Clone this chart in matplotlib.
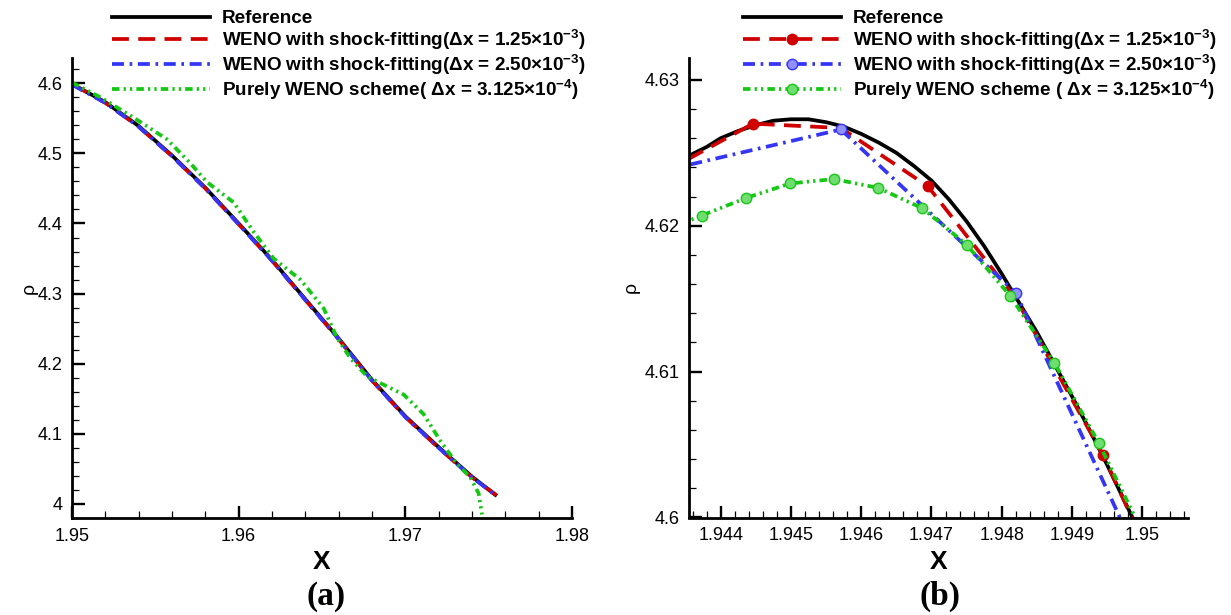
import matplotlib
matplotlib.use("Agg")
import matplotlib.pyplot as plt
from matplotlib.ticker import MultipleLocator, FuncFormatter

plt.rcParams['font.family'] = ['Liberation Sans', 'DejaVu Sans']
plt.rcParams['mathtext.fontset'] = 'custom'
plt.rcParams['mathtext.rm'] = 'Liberation Sans:bold'
plt.rcParams['mathtext.it'] = 'Liberation Sans:bold'
plt.rcParams['mathtext.bf'] = 'Liberation Sans:bold'
plt.rcParams['mathtext.default'] = 'rm'

# ---- panel (a) data ----
ref_a_x = [1.950, 1.952, 1.954, 1.956, 1.958, 1.960, 1.962, 1.964, 1.966, 1.968, 1.970, 1.972, 1.974, 1.9754]
ref_a_y = [4.599, 4.573, 4.539, 4.497, 4.451, 4.400, 4.348, 4.292, 4.236, 4.177, 4.125, 4.081, 4.039, 4.013]
red_a_x = [1.950, 1.952, 1.954, 1.956, 1.958, 1.960, 1.962, 1.964, 1.966, 1.968, 1.970, 1.972, 1.974, 1.9755]
red_a_y = [4.599, 4.572, 4.538, 4.496, 4.450, 4.399, 4.347, 4.291, 4.235, 4.176, 4.124, 4.080, 4.038, 4.012]
blue_a_x = [1.950, 1.952, 1.954, 1.956, 1.958, 1.960, 1.962, 1.964, 1.966, 1.968, 1.970, 1.972, 1.974, 1.9755]
blue_a_y = [4.598, 4.572, 4.538, 4.496, 4.450, 4.399, 4.347, 4.291, 4.235, 4.176, 4.124, 4.080, 4.038, 4.011]
green_a_x = [1.9500, 1.9517, 1.9537, 1.9557, 1.9571, 1.9581, 1.9597, 1.9609, 1.9621, 1.9637, 1.9651,
             1.9659, 1.9667, 1.9677, 1.9687, 1.9699, 1.9711, 1.9721, 1.9731, 1.9739, 1.9744, 1.9746]
green_a_y = [4.601, 4.580, 4.551, 4.520, 4.486, 4.459, 4.430, 4.388, 4.350, 4.320, 4.279,
             4.237, 4.208, 4.182, 4.170, 4.156, 4.128, 4.090, 4.057, 4.038, 4.015, 3.985]

# ---- panel (b) data ----
ref_b_x = [1.94355, 1.9438, 1.9440, 1.94425, 1.9445, 1.94475, 1.9450, 1.94525, 1.9455, 1.94575,
           1.9460, 1.94625, 1.9465, 1.94675, 1.9470, 1.94725, 1.9475, 1.94775, 1.9480, 1.94825,
           1.9485, 1.94875, 1.9490, 1.94925, 1.9495, 1.94975, 1.9500]
ref_b_y = [4.6248, 4.6254, 4.6260, 4.6265, 4.6269, 4.6272, 4.6273, 4.6273, 4.6271, 4.6268,
           4.6263, 4.6257, 4.6250, 4.6241, 4.6231, 4.6218, 4.6203, 4.6186, 4.6167, 4.6147,
           4.6127, 4.6105, 4.6083, 4.6060, 4.6036, 4.6011, 4.5986]
red_b_x = [1.94321, 1.94446, 1.94571, 1.94695, 1.94820, 1.94944, 1.95069]
red_b_y = [4.6237, 4.6270, 4.6267, 4.6227, 4.6150, 4.6043, 4.5912]
blue_b_x = [1.94321, 1.94571, 1.94820, 1.95071]
blue_b_y = [4.6238, 4.6266, 4.6154, 4.5893]
green_b_x = [1.94311, 1.94373, 1.94436, 1.94499, 1.94561, 1.94624, 1.94687, 1.94750,
             1.94812, 1.94875, 1.94938, 1.95000]
green_b_y = [4.6195, 4.6207, 4.6219, 4.6229, 4.6232, 4.6226, 4.6212, 4.6187,
             4.6152, 4.6106, 4.6051, 4.5990]

labels_a = ['Reference',
            'WENO with shock-fitting(Δx = 1.25×10$^{-3}$)',
            'WENO with shock-fitting(Δx = 2.50×10$^{-3}$)',
            'Purely WENO scheme( Δx = 3.125×10$^{-4}$)']
labels_b = ['Reference',
            'WENO with shock-fitting(Δx = 1.25×10$^{-3}$)',
            'WENO with shock-fitting(Δx = 2.50×10$^{-3}$)',
            'Purely WENO scheme ( Δx = 3.125×10$^{-4}$)']

c_red = '#d00000'
c_blue = '#3535f5'
c_green = '#14c814'
red_dash = (4.5, 2.5)
blue_dash = (3.2, 1.5, 0.7, 1.5)
green_dash = (2.0, 1.1, 0.6, 1.1, 0.6, 1.1)

W, H = 1231, 615
fig = plt.figure(figsize=(W / 100, H / 100), dpi=100)
ax1 = fig.add_axes([72 / W, (H - 518) / H, 500 / W, (518 - 58) / H])
ax2 = fig.add_axes([689 / W, (H - 517.5) / H, 499 / W, (517.5 - 58) / H])

lw = 2.7
# panel (a)
h0, = ax1.plot(ref_a_x, ref_a_y, color='black', lw=lw)
h1, = ax1.plot(red_a_x, red_a_y, color=c_red, lw=lw, dashes=red_dash)
h2, = ax1.plot(blue_a_x, blue_a_y, color=c_blue, lw=lw, dashes=blue_dash)
h3, = ax1.plot(green_a_x, green_a_y, color=c_green, lw=lw, dashes=green_dash)

# panel (b)
g0, = ax2.plot(ref_b_x, ref_b_y, color='black', lw=lw)
g1, = ax2.plot(red_b_x, red_b_y, color=c_red, lw=lw, dashes=red_dash,
               marker='o', ms=7.5, markevery=(1, 2))
g2, = ax2.plot(blue_b_x, blue_b_y, color=c_blue, lw=lw, dashes=blue_dash,
               marker='o', ms=7.5, mfc='#9090ff')
g3, = ax2.plot(green_b_x, green_b_y, color=c_green, lw=lw, dashes=green_dash,
               marker='o', ms=7.5, mfc='#70dd70')

fmt = FuncFormatter(lambda v, p: '{:g}'.format(round(v, 6)))

for ax in (ax1, ax2):
    ax.spines['top'].set_visible(False)
    ax.spines['right'].set_visible(False)
    ax.spines['left'].set_linewidth(2.0)
    ax.spines['bottom'].set_linewidth(2.0)
    ax.tick_params(which='major', direction='in', length=9, width=1.7, labelsize=13, pad=7)
    ax.tick_params(which='minor', direction='in', length=5, width=0.9)
    ax.xaxis.set_major_formatter(fmt)
    ax.yaxis.set_major_formatter(fmt)
    ax.set_xlabel('X', fontsize=19, fontweight='bold', labelpad=4)

ax1.set_ylabel('ρ', fontsize=14, labelpad=0)
ax2.set_ylabel('ρ', fontsize=14, labelpad=3)

ax1.set_xlim(1.95, 1.98)
ax1.set_ylim(3.980, 4.636)
ax1.xaxis.set_major_locator(MultipleLocator(0.01))
ax1.xaxis.set_minor_locator(MultipleLocator(0.002))
ax1.yaxis.set_major_locator(MultipleLocator(0.1))
ax1.yaxis.set_minor_locator(MultipleLocator(0.02))

ax2.set_xlim(1.94355, 1.95065)
ax2.set_ylim(4.6, 4.6315)
ax2.xaxis.set_major_locator(MultipleLocator(0.001))
ax2.xaxis.set_minor_locator(MultipleLocator(0.0002))
ax2.yaxis.set_major_locator(MultipleLocator(0.01))
ax2.yaxis.set_minor_locator(MultipleLocator(0.002))

leg_kw = dict(loc='upper left', bbox_transform=fig.transFigure, frameon=False,
              prop={'weight': 'bold', 'size': 13.6}, handlelength=5.2, handletextpad=0.62,
              labelspacing=0.04, borderpad=0, borderaxespad=0, numpoints=1)
ax1.legend([h0, h1, h2, h3], labels_a, bbox_to_anchor=(112 / W, 1 - 10 / H), **leg_kw)
ax2.legend([g0, g1, g2, g3], labels_b, bbox_to_anchor=(743 / W, 1 - 10 / H), **leg_kw)

fig.text(326 / W, 1 - 596 / H, '(a)', fontsize=24, fontweight='bold',
         family='Liberation Serif', ha='center', va='center')
fig.text(940 / W, 1 - 596 / H, '(b)', fontsize=24, fontweight='bold',
         family='Liberation Serif', ha='center', va='center')

fig.savefig('out.png', dpi=100)
